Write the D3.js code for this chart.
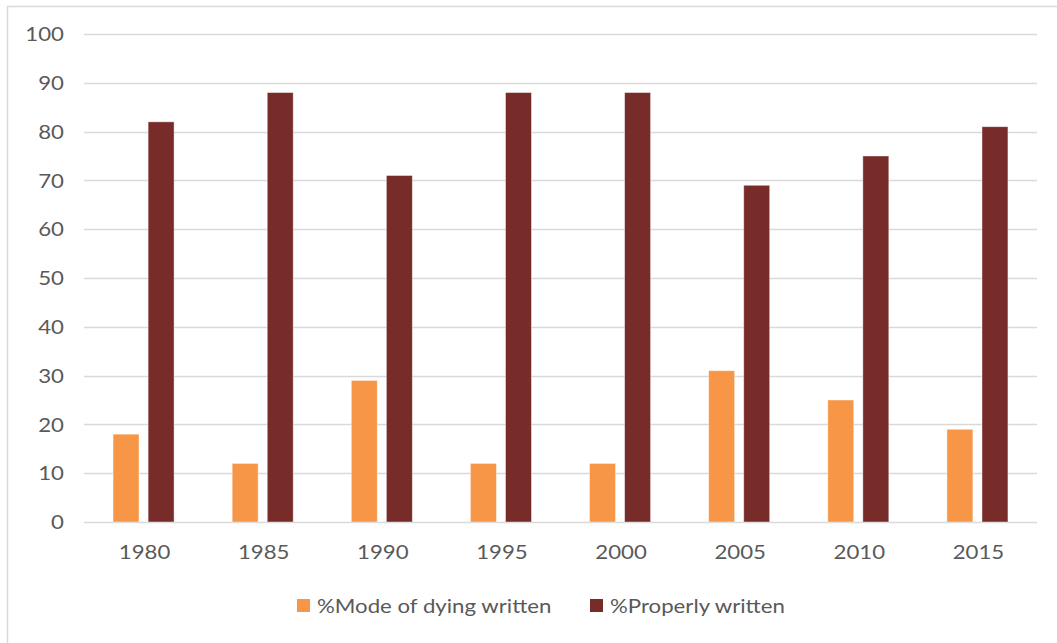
<!DOCTYPE html>
<html>
<head>
<meta charset="utf-8">
<script src="https://cdn.jsdelivr.net/npm/d3@7"></script>
<style>
  html, body { margin: 0; padding: 0; background: #fff; }
  svg text { font-family: Lato, "Open Sans", sans-serif; fill: #595959; }
</style>
</head>
<body>
<svg id="chart" width="1057" height="643"></svg>
<script>
// Chart data
const years = ["1980", "1985", "1990", "1995", "2000", "2005", "2010", "2015"];
const modeOfDying = [18, 12, 29, 12, 12, 31, 25, 19];
const properlyWritten = [82, 88, 71, 88, 88, 69, 75, 81];
const seriesNames = ["%Mode of dying written", "%Properly written"];
const seriesColors = ["#F79646", "#772C2A"];
const yTicks = [0, 10, 20, 30, 40, 50, 60, 70, 80, 90, 100];

// text is drawn slightly widened horizontally
const textStretch = "scale(1.17,1)";

const svg = d3.select("#chart");

// outer chart border
svg.append("rect")
  .attr("x", 7.5).attr("y", 6.5)
  .attr("width", 1057).attr("height", 643)
  .attr("fill", "#fff")
  .attr("stroke", "#D9D9D9").attr("stroke-width", 1.5);

const plot = { left: 84, right: 1037, top: 34, bottom: 522 };

const x = d3.scaleBand().domain(years).range([plot.left, plot.right]).padding(0);
const xInner = d3.scaleBand().domain([0, 1]).range([-30.5, 30.5]).paddingInner(0.26);
const y = d3.scaleLinear().domain([0, 100]).range([plot.bottom, plot.top]);

// horizontal gridlines
svg.append("g")
  .selectAll("line")
  .data(yTicks)
  .join("line")
  .attr("x1", plot.left).attr("x2", plot.right)
  .attr("y1", d => Math.round(y(d)) + 0.5)
  .attr("y2", d => Math.round(y(d)) + 0.5)
  .attr("stroke", "#D9D9D9").attr("stroke-width", 1.3);

// y axis labels
const yAxis = d3.axisLeft(y).tickValues(yTicks).tickSize(0).tickPadding(0);
const gy = svg.append("g").attr("transform", `translate(64,0)`).call(yAxis);
gy.select(".domain").remove();
gy.selectAll("text")
  .attr("x", 0)
  .attr("font-size", 19)
  .attr("dy", "0.35em")
  .attr("transform", textStretch)
  .style("font-family", "Lato, 'Open Sans', sans-serif")
  .attr("fill", "#595959");

// x axis labels
const xAxis = d3.axisBottom(x).tickSize(0).tickPadding(0);
const gx = svg.append("g").attr("transform", `translate(1,552)`).call(xAxis);
gx.select(".domain").remove();
gx.selectAll("text")
  .attr("y", 0)
  .attr("font-size", 19)
  .attr("dy", "0.35em")
  .attr("transform", textStretch)
  .style("font-family", "Lato, 'Open Sans', sans-serif")
  .attr("fill", "#595959");

// bars
const series = [modeOfDying, properlyWritten];
series.forEach((vals, si) => {
  svg.append("g")
    .selectAll("rect")
    .data(vals)
    .join("rect")
    .attr("x", (d, i) => x(years[i]) + x.bandwidth() / 2 + xInner(si))
    .attr("width", xInner.bandwidth())
    .attr("y", d => y(d))
    .attr("height", d => y(0) - y(d))
    .attr("fill", seriesColors[si])
    .attr("stroke", "#ffffff")
    .attr("stroke-opacity", 0.5)
    .attr("stroke-width", 0.8);
});

// legend
const legendItems = [
  { name: seriesNames[0], color: seriesColors[0], x: 297 },
  { name: seriesNames[1], color: seriesColors[1], x: 590 }
];
const lg = svg.append("g");
legendItems.forEach(it => {
  lg.append("rect")
    .attr("x", it.x).attr("y", 599)
    .attr("width", 13).attr("height", 13)
    .attr("fill", it.color);
  lg.append("g")
    .attr("transform", `translate(${it.x + 20},606)`)
    .append("text")
    .attr("dy", "0.35em")
    .attr("font-size", 19)
    .attr("transform", textStretch)
    .text(it.name);
});
</script>
</body>
</html>
